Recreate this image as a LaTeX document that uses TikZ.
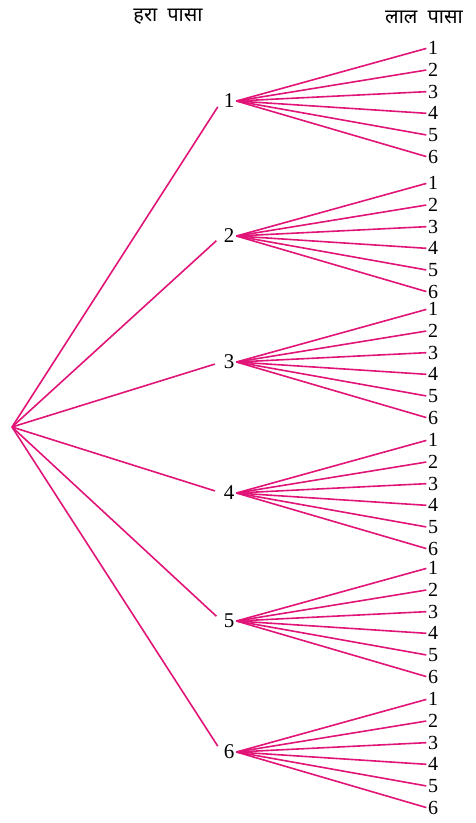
\documentclass[tikz,border=0pt]{standalone}
\usepackage{fontspec}
\setmainfont{Liberation Serif}
\newfontfamily\devfont[Script=Devanagari]{Noto Sans}
\definecolor{treepink}{RGB}{225,20,120}

\begin{document}
\begin{tikzpicture}[x=1pt, y=-1pt,
    branch/.style={draw=treepink, line width=1.6pt},
    num/.style={font=\fontsize{20}{22}\selectfont, inner sep=0pt},
    head/.style={font=\devfont\fontsize{20}{22}\selectfont}
]
\useasboundingbox (0,0) rectangle (475,823);

% Headings
\node[head] (green) at (168,17) {हरा\hspace{0.5em}पासा};
\node[head] (red) at (424,17) {लाल\hspace{0.5em}पासा};

% Root
\coordinate (root) at (12,427);

% Green die, then red die
\foreach \g/\y in {1/101,2/236,3/362,4/493,5/621,6/752}{
  \node[num, font=\fontsize{21}{23}\selectfont, inner sep=2pt] (g\g) at (229,\y) {\g};
  \draw[branch, shorten >=7pt] (root) -- (g\g.west);
  \foreach \r in {1,...,6}{
    \node[num] (r\g\r) at (433,{\y-53+21.8*(\r-1)}) {\r};
    \draw[branch, shorten >=1.5pt] (g\g.east) -- (r\g\r.west);
  }
}

\end{tikzpicture}
\end{document}
